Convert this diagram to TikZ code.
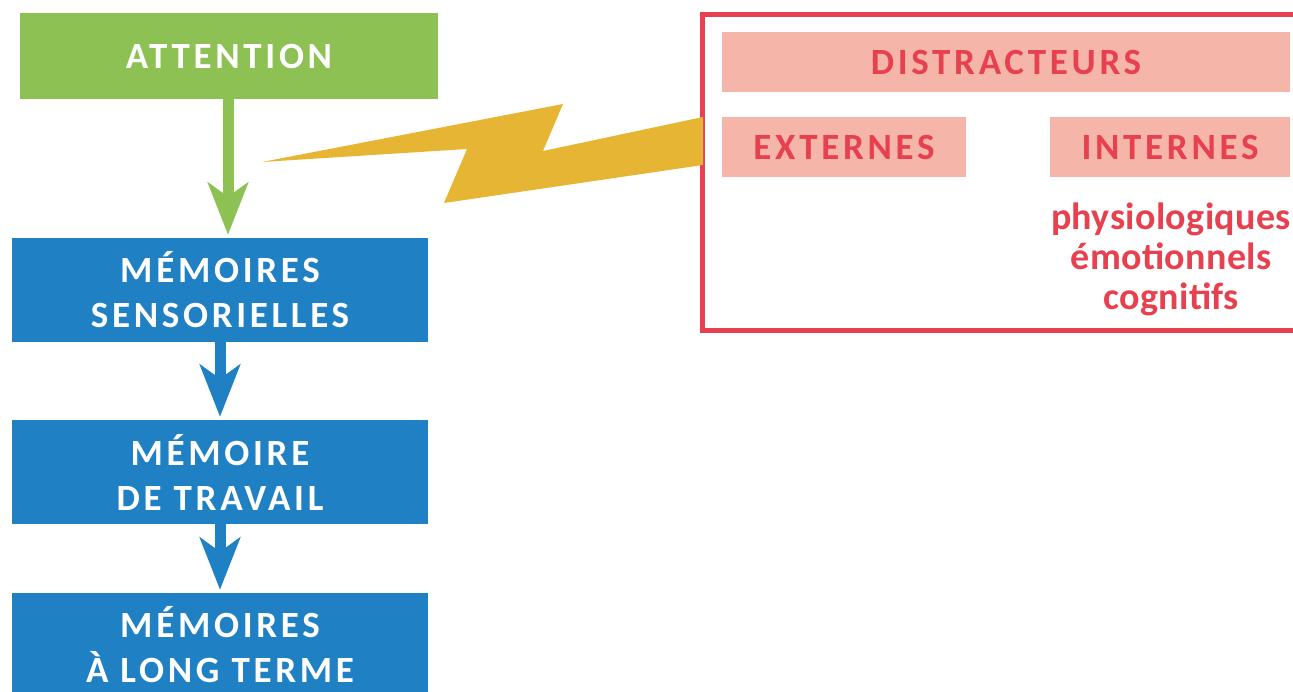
\documentclass[tikz,border=0pt]{standalone}
\usepackage{fontspec}
\setmainfont{Carlito}
\newfontfamily\capsfont[LetterSpace=10]{Carlito}
\newfontfamily\listfont[LetterSpace=1]{Carlito}
\usetikzlibrary{arrows.meta}

\definecolor{attgreen}{HTML}{8DC153}
\definecolor{memblue}{HTML}{1F81C4}
\definecolor{distpink}{HTML}{F5B6A9}
\definecolor{distred}{HTML}{E7404F}
\definecolor{boltyellow}{HTML}{E6B533}

\begin{document}
\begin{tikzpicture}[x=1pt, y=-1pt, >={Stealth[length=52pt,width=40pt,inset=14pt]},
                    mem box/.style={fill=memblue, inner sep=0pt, minimum width=416pt,
                      minimum height=104pt, align=center, text=white,
                      font=\capsfont\fontsize{37}{45}\selectfont\bfseries},
                    pink bar/.style={fill=distpink, inner sep=0pt, minimum height=60pt,
                      text=distred, font=\capsfont\fontsize{37}{45}\selectfont\bfseries},
                    flow/.style={->, line width=11pt, shorten >=3pt}]
  \clip (0,0) rectangle (1293,692);

  % left column
  \node[mem box, fill=attgreen, minimum width=418pt, minimum height=86pt] (att) at (229,56) {ATTENTION};
  \node[mem box] (sens) at (220,290) {MÉMOIRES\\SENSORIELLES};
  \node[mem box] (work) at (220,472) {MÉMOIRE\\DE TRAVAIL};
  \node[mem box] (long) at (220,645) {MÉMOIRES\\À LONG TERME};

  \draw[flow, attgreen] (att.south -| 228,0) -- (sens.north -| 228,0);
  \draw[flow, memblue] (sens) -- (work);
  \draw[flow, memblue] (work) -- (long);

  % distracteurs
  \draw[distred, line width=5pt] (702.5,14.5) rectangle (1320,330.5);
  \node[pink bar, minimum width=568pt] (dist) at (1006,62.5) {DISTRACTEURS};
  \node[pink bar, minimum width=244pt] (ext) at (844,147) {EXTERNES};
  \node[pink bar, minimum width=240pt] (int) at (1170,147) {INTERNES};
  \node[align=center, text=distred, inner sep=0pt,
        font=\listfont\fontsize{38}{40}\selectfont\bfseries] (kinds) at (1171,259)
        {physiologiques\\émotionnels\\cognitifs};

  % eclair
  \fill[boltyellow] (262,162) -- (563,104) -- (543,151) -- (703,117)
    -- (703,165) -- (444,203) -- (467,149) -- cycle;
\end{tikzpicture}
\end{document}
